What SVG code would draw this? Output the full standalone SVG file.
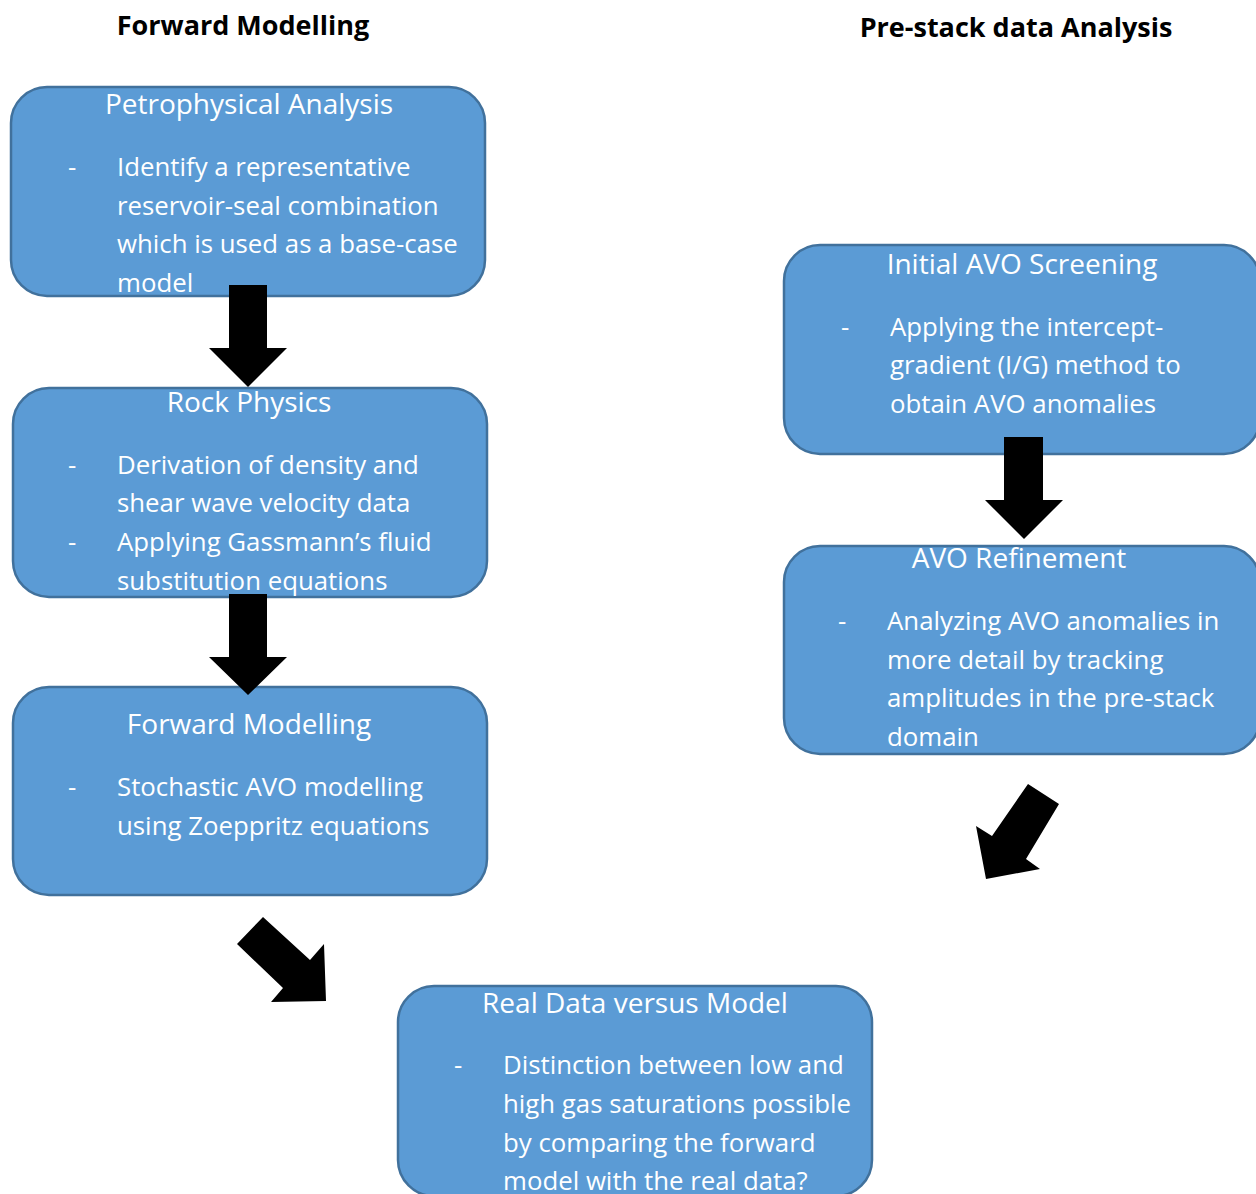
<svg xmlns="http://www.w3.org/2000/svg" width="1256" height="1194" viewBox="0 0 1256 1194">
<style>
.box{fill:#5B9BD5;stroke:#41719C;stroke-width:2.5}
.t{font-family:"Open Sans","Noto Sans",sans-serif;font-size:25.8px;fill:#FFFFFF}
.c{text-anchor:middle;font-size:28px}
.h{font-family:"Open Sans","Noto Sans",sans-serif;font-size:27px;font-weight:bold;fill:#000000;text-anchor:middle}
.arr{fill:#000000}
</style>
<rect width="1256" height="1194" fill="#FFFFFF"/>
<text class="h" x="243" y="35">Forward Modelling</text>
<text class="h" x="1016" y="37">Pre-stack data Analysis</text>

<g id="petrophysical">
<rect class="box" x="11" y="87" width="474" height="209" rx="36"/>
<text class="t c" x="249" y="114">Petrophysical Analysis</text>
<text class="t" x="68" y="176">-</text>
<text class="t" x="117" y="176">Identify a representative</text>
<text class="t" x="117" y="215">reservoir-seal combination</text>
<text class="t" x="117" y="253">which is used as a base-case</text>
<text class="t" x="117" y="292">model</text>
</g>

<g id="rockphysics">
<rect class="box" x="13" y="388" width="474" height="209" rx="36"/>
<text class="t c" x="249" y="412">Rock Physics</text>
<text class="t" x="68" y="474">-</text>
<text class="t" x="117" y="474">Derivation of density and</text>
<text class="t" x="117" y="512">shear wave velocity data</text>
<text class="t" x="68" y="551">-</text>
<text class="t" x="117" y="551">Applying Gassmann’s fluid</text>
<text class="t" x="117" y="590">substitution equations</text>
</g>

<g id="forwardmodelling">
<rect class="box" x="13" y="687" width="474" height="208" rx="36"/>
<text class="t c" x="249" y="734">Forward Modelling</text>
<text class="t" x="68" y="796">-</text>
<text class="t" x="117" y="796">Stochastic AVO modelling</text>
<text class="t" x="117" y="835">using Zoeppritz equations</text>
</g>

<g id="initialavo">
<rect class="box" x="784" y="245" width="476" height="209" rx="36"/>
<text class="t c" x="1022" y="274">Initial AVO Screening</text>
<text class="t" x="841" y="336">-</text>
<text class="t" x="890" y="336">Applying the intercept-</text>
<text class="t" x="890" y="374">gradient (I/G) method to</text>
<text class="t" x="890" y="413">obtain AVO anomalies</text>
</g>

<g id="avorefinement">
<rect class="box" x="784" y="546" width="476" height="208" rx="36"/>
<text class="t c" x="1019" y="568">AVO Refinement</text>
<text class="t" x="838" y="630">-</text>
<text class="t" x="887" y="630">Analyzing AVO anomalies in</text>
<text class="t" x="887" y="669">more detail by tracking</text>
<text class="t" x="887" y="707">amplitudes in the pre-stack</text>
<text class="t" x="887" y="746">domain</text>
</g>

<g id="realdata">
<rect class="box" x="398" y="986" width="474" height="210" rx="36"/>
<text class="t c" x="635" y="1013">Real Data versus Model</text>
<text class="t" x="454" y="1074">-</text>
<text class="t" x="503" y="1074">Distinction between low and</text>
<text class="t" x="503" y="1113">high gas saturations possible</text>
<text class="t" x="503" y="1152">by comparing the forward</text>
<text class="t" x="503" y="1190">model with the real data?</text>
</g>

<g id="connectors">
<polygon class="arr" points="229,285 267,285 267,348 287,348 248,387 209,348 229,348"/>
<polygon class="arr" points="229,594 267,594 267,657 287,657 248,695 209,657 229,657"/>
<polygon class="arr" points="1004,437 1043,437 1043,500 1063,500 1024,539 985,500 1004,500"/>
<polygon class="arr" points="1028,784 1059,804 1026,859 1040,869 986,879 976,826 992,836"/>
<polygon class="arr" points="263,917 310,960 324,944 326,1001 271,1002 283,988 237,944"/>
</g>
</svg>
